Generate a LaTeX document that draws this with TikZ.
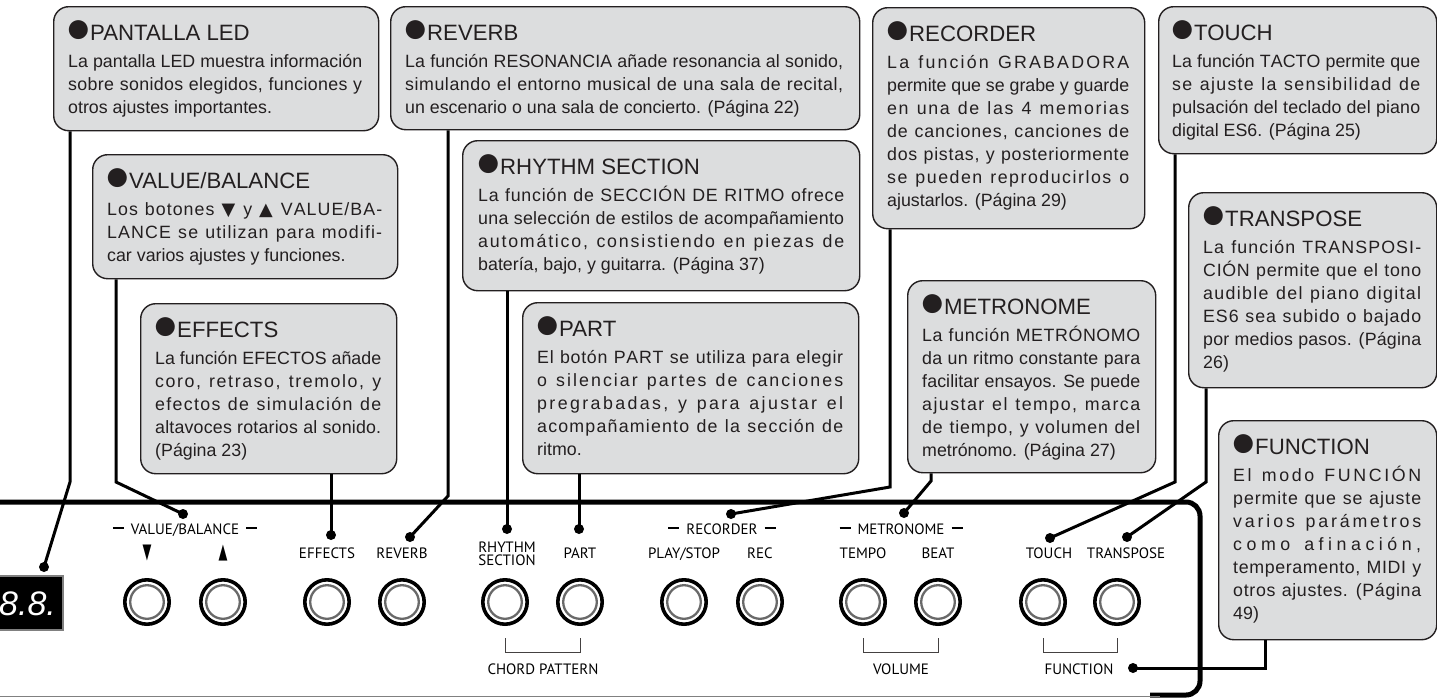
\documentclass[tikz,border=0pt]{standalone}
\usepackage{fontspec}
\usepackage{graphicx}
\setmainfont{Liberation Sans}
\newfontfamily\panelfont{PT Sans}
\newfontfamily\symfont{DejaVu Sans}
\usetikzlibrary{calc}
\definecolor{boxfill}{RGB}{220,221,222}
\definecolor{ink}{RGB}{35,31,32}
\definecolor{ringgray}{RGB}{105,105,105}
\newcommand\titlef{\fontsize{22.2}{23}\selectfont}
\newcommand\bodyf{\fontsize{17.8}{23}\selectfont}
\newcommand\bul{\makebox[22pt][c]{\raisebox{-2pt}{\fontsize{44}{23}\selectfont ●}}}
\newcommand\dtri{{\symfont ▼}}
\newcommand\utri{{\symfont ▲}}
\ExplSyntaxOn
\seq_new:N \l__rs_words_seq
\cs_new_protected:Npn \__rs_word:n #1
  { \tl_map_inline:nn {#1} { ##1 \hskip 0pt plus 1fil \scan_stop: } }
\NewDocumentCommand \spl { m }
  {
    \hbox to \linewidth
      {
        \seq_set_split:Nnn \l__rs_words_seq { ~ } {#1}
        \seq_map_inline:Nn \l__rs_words_seq
          { \__rs_word:n {##1} \hskip 0pt plus 1fil \scan_stop: \c_space_tl }
        \unskip \unskip \unskip
      }
  }
\ExplSyntaxOff
\newcommand\lastline[1]{\hbox{#1}}
\newcommand\calltext[3]{\parbox[t]{#1}{\titlef\hbox{\bul#2}\vspace{4pt}\bodyf #3}}
\newcommand\panelf{\panelfont\fontsize{15}{13}\selectfont}
\newcommand\pdash{\rule[5pt]{11pt}{1.6pt}}
\newcommand\tri[1]{\scalebox{0.55}[1]{\symfont\fontsize{21}{21}\selectfont #1}}
\tikzset{
  callout/.style={draw=ink, line width=1.4pt, fill=boxfill, rounded corners=15pt,
    rectangle, inner sep=0pt, anchor=north west},
  ctext/.style={anchor=base west, inner sep=0pt, text=ink},
  conn/.style={draw=black, line width=3pt},
  dot/.style={circle, fill=black, minimum size=10pt, inner sep=0pt},
  btn/.style={circle, draw=black, line width=3.6pt, minimum size=44.4pt, inner sep=0pt,
    fill=white, path picture={\draw[ringgray, line width=2.3pt]
      (path picture bounding box.center) circle[radius=16.8pt];}},
  plabel/.style={inner sep=0pt, anchor=base, font=\panelf, text=black},
  brk/.style={draw=ink!85, line width=1pt},
  frame/.style={draw=black, line width=5pt, rounded corners=14pt},
  ledbox/.style={rectangle, fill=black, draw=gray, line width=1.5pt, inner sep=0pt, anchor=north west},
}
\begin{document}
\begin{tikzpicture}[x=1pt,y=-1pt]
\useasboundingbox (0,0) rectangle (1437,697);
\fill[white] (0,0) rectangle (1437,697);

% ---------- panel ----------
\draw[frame] (-5,502) -- (1200,502) -- (1200,695) -- (1150,695);
\draw[gray, line width=1pt] (0,696.5) -- (1160,696.5);

\node[ledbox, minimum width=64pt, minimum height=54pt] (led) at (-2,575) {};
\node[anchor=base west, inner sep=0pt, text=white, font=\fontsize{34}{34}\selectfont\itshape] (ledT) at (-1,615) {8.8.};

% buttons
\node[btn] (bDown) at (147,602) {};
\node[btn] (bUp) at (223,602) {};
\node[btn] (bEff) at (327,602) {};
\node[btn] (bRev) at (402,602) {};
\node[btn] (bRhy) at (505,602) {};
\node[btn] (bPart) at (580,602) {};
\node[btn] (bPlay) at (684,602) {};
\node[btn] (bRec) at (760,602) {};
\node[btn] (bTempo) at (863,602) {};
\node[btn] (bBeat) at (938,602) {};
\node[btn] (bTouch) at (1043,602) {};
\node[btn] (bTrans) at (1117,602) {};

% panel labels
\node[plabel] (lVB) at (185,534) {\pdash\hspace{7pt}VALUE/BALANCE\hspace{7pt}\pdash};
\node[plabel] (lDown) at (147,558) {\tri{▼}};
\node[plabel] (lUp) at (223,558) {\tri{▲}};
\node[plabel] (lEff) at (327,558) {EFFECTS};
\node[plabel] (lRev) at (402,558) {REVERB};
\node[plabel, anchor=north, align=center] (lRhy) at (507,542) {RHYTHM\\SECTION};
\node[plabel] (lPart) at (580,558) {PART};
\node[plabel] (lRecG) at (722,534) {\pdash\hspace{7pt}RECORDER\hspace{7pt}\pdash};
\node[plabel] (lPlay) at (684,558) {PLAY/STOP};
\node[plabel] (lRec) at (760,558) {REC};
\node[plabel] (lMetG) at (901,534) {\pdash\hspace{7pt}METRONOME\hspace{7pt}\pdash};
\node[plabel] (lTempo) at (863,558) {TEMPO};
\node[plabel] (lBeat) at (938,558) {BEAT};
\node[plabel] (lTouch) at (1049,558) {TOUCH};
\node[plabel] (lTrans) at (1126,558) {TRANSPOSE};
\node[plabel] (lChord) at (543,674) {CHORD PATTERN};
\node[plabel] (lVol) at (901,674) {VOLUME};
\node[plabel] (lFunc) at (1079,674) {FUNCTION};

% brackets
\draw[brk] ($(bRhy.south)+(0,12)$) -- ($(bRhy.south)+(0,26)$) -- ($(bPart.south)+(0,26)$) -- ($(bPart.south)+(0,12)$);
\draw[brk] ($(bTempo.south)+(0,12)$) -- ($(bTempo.south)+(0,26)$) -- ($(bBeat.south)+(0,26)$) -- ($(bBeat.south)+(0,12)$);
\draw[brk] ($(bTouch.south)+(0,12)$) -- ($(bTouch.south)+(0,26)$) -- ($(bTrans.south)+(0,26)$) -- ($(bTrans.south)+(0,12)$);

% ---------- callout boxes ----------
\node[callout, minimum width=325pt, minimum height=124pt] (pant) at (53,6) {};
\node[callout, minimum width=469pt, minimum height=123pt] (reverb) at (390,6) {};
\node[callout, minimum width=272pt, minimum height=221pt] (recorder) at (872,7) {};
\node[callout, minimum width=278pt, minimum height=147pt] (touch) at (1158,6) {};
\node[callout, minimum width=305pt, minimum height=124pt] (valbal) at (92,154) {};
\node[callout, minimum width=397pt, minimum height=150pt] (rhythm) at (462,140) {};
\node[callout, minimum width=256pt, minimum height=170pt] (effects) at (140,303) {};
\node[callout, minimum width=336pt, minimum height=171pt] (part) at (522,302) {};
\node[callout, minimum width=248pt, minimum height=192pt] (metro) at (907,280) {};
\node[callout, minimum width=248pt, minimum height=195pt] (transp) at (1188,192) {};
\node[callout, minimum width=218pt, minimum height=219pt] (func) at (1218,420) {};

\node[ctext] (pantT) at (68,40) {\calltext{294pt}{PANTALLA LED}{%
\spl{La pantalla LED muestra información}%
\spl{sobre sonidos elegidos, funciones y}%
\lastline{otros ajustes importantes.}}};

\node[ctext] (reverbT) at (405,40) {\calltext{438pt}{REVERB}{%
\spl{La función RESONANCIA añade resonancia al sonido,}%
\spl{simulando el entorno musical de una sala de recital,}%
\lastline{un escenario o una sala de concierto. (Página 22)}}};

\node[ctext] (recorderT) at (887,41) {\calltext{242pt}{RECORDER}{%
\spl{La función GRABADORA}%
\spl{permite que se grabe y guarde}%
\spl{en una de las 4 memorias}%
\spl{de canciones, canciones de}%
\spl{dos pistas, y posteriormente}%
\spl{se pueden reproducirlos o}%
\lastline{ajustarlos. (Página 29)}}};

\node[ctext] (touchT) at (1172,40) {\calltext{248pt}{TOUCH}{%
\spl{La función TACTO permite que}%
\spl{se ajuste la sensibilidad de}%
\spl{pulsación del teclado del piano}%
\lastline{digital ES6. (Página 25)}}};

\node[ctext] (valbalT) at (107,188) {\calltext{275pt}{VALUE/BALANCE}{%
\spl{Los botones \dtri{} y \utri{} VALUE/BA-}%
\spl{LANCE se utilizan para modifi-}%
\lastline{car varios ajustes y funciones.}}};

\node[ctext] (rhythmT) at (478,174) {\calltext{366pt}{RHYTHM SECTION}{%
\spl{La función de SECCIÓN DE RITMO ofrece}%
\spl{una selección de estilos de acompañamiento}%
\spl{automático, consistiendo en piezas de}%
\lastline{batería, bajo, y guitarra. (Página 37)}}};

\node[ctext] (effectsT) at (155,337) {\calltext{226pt}{EFFECTS}{%
\spl{La función EFECTOS añade}%
\spl{coro, retraso, tremolo, y}%
\spl{efectos de simulación de}%
\spl{altavoces rotarios al sonido.}%
\lastline{(Página 23)}}};

\node[ctext] (partT) at (537,336) {\calltext{306pt}{PART}{%
\spl{El botón PART se utiliza para elegir}%
\spl{o silenciar partes de canciones}%
\spl{pregrabadas, y para ajustar el}%
\spl{acompañamiento de la sección de}%
\lastline{ritmo.}}};

\node[ctext] (metroT) at (922,314) {\calltext{218pt}{METRONOME}{%
\spl{La función METRÓNOMO}%
\spl{da un ritmo constante para}%
\spl{facilitar ensayos. Se puede}%
\spl{ajustar el tempo, marca}%
\spl{de tiempo, y volumen del}%
\lastline{metrónomo. (Página 27)}}};

\node[ctext] (transpT) at (1203,226) {\calltext{218pt}{TRANSPOSE}{%
\spl{La función TRANSPOSI-}%
\spl{CIÓN permite que el tono}%
\spl{audible del piano digital}%
\spl{ES6 sea subido o bajado}%
\spl{por medios pasos. (Página}%
\lastline{26)}}};

\node[ctext] (funcT) at (1233,454) {\calltext{188pt}{FUNCTION}{%
\spl{El modo FUNCIÓN}%
\spl{permite que se ajuste}%
\spl{varios parámetros}%
\spl{como afinación,}%
\spl{temperamento, MIDI y}%
\spl{otros ajustes. (Página}%
\lastline{49)}}};

% ---------- dots ----------
\node[dot] (dLed) at (44,567) {};
\node[dot] (dVB) at (183,514) {};
\node[dot] (dEff) at (331,535) {};
\node[dot] (dRev) at (410,537) {};
\node[dot] (dRhy) at (507,529) {};
\node[dot] (dPart) at (579,529) {};
\node[dot] (dRec) at (731,514) {};
\node[dot] (dMet) at (904,513) {};
\node[dot] (dTouch) at (1050,538) {};
\node[dot] (dTrans) at (1127,537) {};
\node[dot] (dFn) at (1133,668) {};

% ---------- connectors ----------
\coordinate (kLed) at (70,482);
\coordinate (kVB) at (116,482);
\coordinate (kRev) at (448,496);
\coordinate (kRec) at (890,487);
\coordinate (kMet) at (931,481);
\coordinate (kTouch) at (1175,482);
\coordinate (kTrans) at (1206,482);
\coordinate (kFn) at (1265,668);

\draw[conn] (pant.south -| kLed) -- (kLed) -- (dLed.center);
\draw[conn] (valbal.south -| kVB) -- (kVB) -- (dVB.center);
\draw[conn] (effects.south -| dEff) -- (dEff.center);
\draw[conn] (reverb.south -| kRev) -- (kRev) -- (dRev.center);
\draw[conn] (rhythm.south -| dRhy) -- (dRhy.center);
\draw[conn] (part.south -| dPart) -- (dPart.center);
\draw[conn] (recorder.south -| kRec) -- (kRec) -- (dRec.center);
\draw[conn] (metro.south -| kMet) -- (kMet) -- (dMet.center);
\draw[conn] (touch.south -| kTouch) -- (kTouch) -- (dTouch.center);
\draw[conn] (transp.south -| kTrans) -- (kTrans) -- (dTrans.center);
\draw[conn] (func.south -| kFn) -- (kFn) -- (dFn.center);
\end{tikzpicture}
\end{document}
